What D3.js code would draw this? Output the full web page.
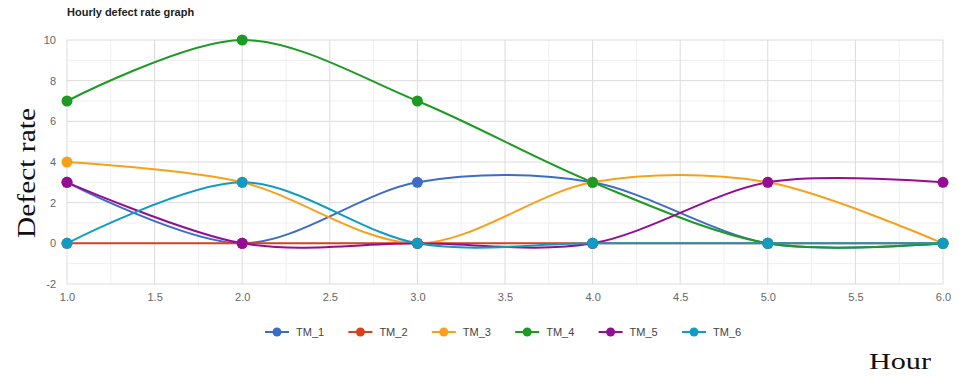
<!DOCTYPE html>
<html>
<head>
<meta charset="utf-8">
<script src="https://cdn.jsdelivr.net/npm/d3@7"></script>
<style>
  html, body { margin: 0; padding: 0; background: #fff; }
  svg { display: block; }
</style>
</head>
<body>
<svg id="chart" width="959" height="376"></svg>
<script>
// Hours on the x axis
const hours = [1, 2, 3, 4, 5, 6];

// Defect rate per hour for each machine
const seriesNames = ["TM_1", "TM_2", "TM_3", "TM_4", "TM_5", "TM_6"];
const tm1 = [3, 0, 3, 3, 0, 0];
const tm2 = [0, 0, 0, 0, 0, 0];
const tm3 = [4, 3, 0, 3, 3, 0];
const tm4 = [7, 10, 7, 3, 0, 0];
const tm5 = [3, 0, 0, 0, 3, 3];
const tm6 = [0, 3, 0, 0, 0, 0];
const seriesValues = [tm1, tm2, tm3, tm4, tm5, tm6];
const seriesColors = ["#3d6cc8", "#d8411c", "#f8a01c", "#1c9a22", "#940d94", "#109bc2"];

// Axis ticks
const xTicks = [1.0, 1.5, 2.0, 2.5, 3.0, 3.5, 4.0, 4.5, 5.0, 5.5, 6.0];
const yTicks = [-2, 0, 2, 4, 6, 8, 10];

const svg = d3.select("#chart");
const plotLeft = 67, plotRight = 943, plotTop = 40, plotBottom = 284;

const x = d3.scaleLinear().domain([1, 6]).range([plotLeft, plotRight]);
const y = d3.scaleLinear().domain([-2, 10]).range([plotBottom, plotTop]);

// Minor gridlines
const grid = svg.append("g");
const xMinor = d3.range(1.25, 6, 0.5);
const yMinor = d3.range(-1, 10, 2);
grid.selectAll(".xm").data(xMinor).join("line")
  .attr("x1", d => x(d)).attr("x2", d => x(d))
  .attr("y1", plotTop).attr("y2", plotBottom)
  .attr("stroke", "#efefef").attr("stroke-width", 1);
grid.selectAll(".ym").data(yMinor).join("line")
  .attr("x1", plotLeft).attr("x2", plotRight)
  .attr("y1", d => y(d)).attr("y2", d => y(d))
  .attr("stroke", "#efefef").attr("stroke-width", 1);

// Major gridlines
grid.selectAll(".xM").data(xTicks).join("line")
  .attr("x1", d => x(d)).attr("x2", d => x(d))
  .attr("y1", plotTop).attr("y2", plotBottom)
  .attr("stroke", "#dcdcdc").attr("stroke-width", 1);
grid.selectAll(".yM").data(yTicks).join("line")
  .attr("x1", plotLeft).attr("x2", plotRight)
  .attr("y1", d => y(d)).attr("y2", d => y(d))
  .attr("stroke", "#dcdcdc").attr("stroke-width", 1);

// Axes (labels only)
const xAxis = d3.axisBottom(x).tickValues(xTicks).tickFormat(d => d.toFixed(1)).tickSize(0).tickPadding(9);
const yAxis = d3.axisLeft(y).tickValues(yTicks).tickFormat(d => String(d)).tickSize(0).tickPadding(11);
const xa = svg.append("g").attr("transform", `translate(0,${plotBottom})`).call(xAxis);
const ya = svg.append("g").attr("transform", `translate(${plotLeft},0)`).call(yAxis);
[xa, ya].forEach(a => {
  a.select(".domain").remove();
  a.selectAll("text").attr("fill", "#666").attr("font-family", "Arial, Liberation Sans, sans-serif").attr("font-size", 11);
});

// Series lines and points
const line = d3.line()
  .x((d, i) => x(hours[i]))
  .y(d => y(d))
  .curve(d3.curveCardinal.tension(0.05));

seriesValues.forEach((vals, s) => {
  svg.append("path").datum(vals)
    .attr("d", line)
    .attr("fill", "none")
    .attr("stroke", seriesColors[s])
    .attr("stroke-width", 2);
});
seriesValues.forEach((vals, s) => {
  svg.append("g").selectAll("circle").data(vals).join("circle")
    .attr("cx", (d, i) => x(hours[i]))
    .attr("cy", d => y(d))
    .attr("r", 5.5)
    .attr("fill", seriesColors[s]);
});

// Title
svg.append("text")
  .attr("x", 67).attr("y", 16)
  .attr("font-family", "Arial, Liberation Sans, sans-serif")
  .attr("font-size", 11).attr("font-weight", "bold").attr("fill", "#222")
  .text("Hourly defect rate graph");

// Legend
const legend = svg.append("g");
const legendX = d3.scaleLinear().domain([0, 5]).range([265, 682]);
seriesNames.forEach((name, s) => {
  const lx = legendX(s);
  const item = legend.append("g").attr("transform", `translate(${lx},332)`);
  item.append("line").attr("x1", 0).attr("x2", 24).attr("y1", 0).attr("y2", 0)
    .attr("stroke", seriesColors[s]).attr("stroke-width", 2);
  item.append("circle").attr("cx", 12).attr("cy", 0).attr("r", 4.5).attr("fill", seriesColors[s]);
  item.append("text").attr("x", 31).attr("y", 4)
    .attr("font-family", "Arial, Liberation Sans, sans-serif")
    .attr("font-size", 11).attr("fill", "#444").text(name);
});

// Axis titles
svg.append("text")
  .attr("transform", "translate(35,173) rotate(-90)")
  .attr("text-anchor", "middle")
  .attr("font-family", "Liberation Serif, DejaVu Serif, serif")
  .attr("font-size", 26).attr("fill", "#111")
  .attr("textLength", 130).attr("lengthAdjust", "spacingAndGlyphs")
  .text("Defect rate");
svg.append("text")
  .attr("x", 900).attr("y", 369)
  .attr("text-anchor", "middle")
  .attr("font-family", "Liberation Serif, DejaVu Serif, serif")
  .attr("font-size", 24).attr("fill", "#111")
  .attr("textLength", 62).attr("lengthAdjust", "spacingAndGlyphs")
  .text("Hour");
</script>
</body>
</html>
